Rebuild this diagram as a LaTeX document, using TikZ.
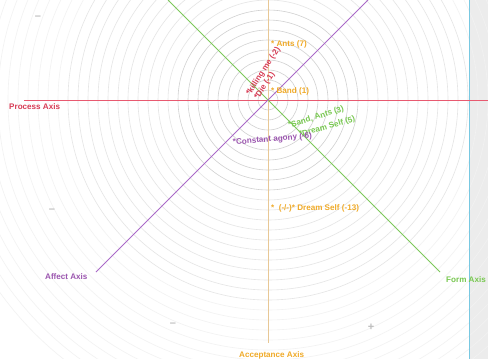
\documentclass[tikz,border=0pt]{standalone}
\usepackage{fontspec}
\setmainfont{Liberation Sans}
\definecolor{cred}{RGB}{215,60,85}
\definecolor{corange}{RGB}{240,170,40}
\definecolor{cgreen}{RGB}{120,200,80}
\definecolor{cpurple}{RGB}{155,85,175}
\definecolor{lorange}{RGB}{232,200,150}
\definecolor{lred}{RGB}{232,90,112}
\definecolor{lgreen}{RGB}{125,200,90}
\definecolor{lpurple}{RGB}{170,105,200}
\definecolor{cblue}{RGB}{120,200,225}
\definecolor{panel}{RGB}{236,236,236}
\definecolor{sign}{RGB}{190,190,190}
\begin{document}
\begin{tikzpicture}[x=1pt,y=-1pt,
  lbl/.style={font=\bfseries\fontsize{8.1}{9}\selectfont, inner sep=0pt, anchor=base west},
  sgn/.style={font=\bfseries\fontsize{11}{12}\selectfont, text=sign, inner sep=0pt}]
\useasboundingbox (0,0) rectangle (488,359);
\fill[white] (0,0) rectangle (488,359);
\fill[panel] (469,0) rectangle (488,359);
\coordinate (c) at (268,100);
\begin{scope}
\clip (0,0) rectangle (488,359);
\foreach \r in {10,20,...,90} {
  \draw[black!18, line width=0.6pt] (c) circle (\r);
}
\foreach \r in {100,110,...,200} {
  \draw[black!10, line width=0.6pt] (c) circle (\r);
}
\foreach \r in {210,220,...,330} {
  \draw[black!5, line width=0.6pt] (c) circle (\r);
}
\end{scope}
\draw[cblue, line width=1pt] (469,0) -- (469,359);
% axes
\coordinate (redL) at (24,100);
\coordinate (redR) at (488,100);
\coordinate (orT) at (268,0);
\coordinate (orB) at (268,343);
\coordinate (grT) at (168,0);
\coordinate (grB) at (440,272);
\coordinate (puT) at (368,0);
\coordinate (puB) at (96,272);
\draw[lorange, line width=0.8pt] (orT) -- (orB);
\draw[lred, line width=0.9pt] (redL) -- (redR);
\draw[lgreen, line width=0.9pt] (grT) -- (grB);
\draw[lpurple, line width=0.9pt] (puT) -- (puB);
% axis labels
\node[lbl, text=cred] (pa) at (9,109) {Process Axis};
\node[lbl, text=cpurple] (aa) at (45,279) {Affect Axis};
\node[lbl, text=cgreen] (fa) at (446,282) {Form Axis};
\node[lbl, text=corange] (ca) at (239,357) {Acceptance Axis};
% signs
\node[sgn] (m1) at (38,18) {–};
\node[sgn] (m2) at (52,211) {–};
\node[sgn] (m3) at (173,325) {–};
\node[sgn] (p1) at (371,327) {+};
% data labels
\node[lbl, text=corange] (ants) at (271,46) {* Ants (7)};
\node[lbl, text=corange] (band) at (271,93) {* Band (1)};
\node[lbl, text=cred, rotate=57] (kill) at (250,96) {*killing me (-2)};
\node[lbl, text=cred, rotate=57] (die) at (258,100) {*Die (-1)};
\node[lbl, text=cgreen, rotate=17] (sand) at (289,128) {*Sand, Ants (3)};
\node[lbl, text=cgreen, rotate=16] (dream) at (300,137) {*Dream Self (5)};
\node[lbl, text=cpurple, rotate=5] (agony) at (233,145) {*Constant agony (-6)};
\node[lbl, text=corange] (dream2) at (271,210) {*~~(-/-)* Dream Self (-13)};
\end{tikzpicture}
\end{document}
